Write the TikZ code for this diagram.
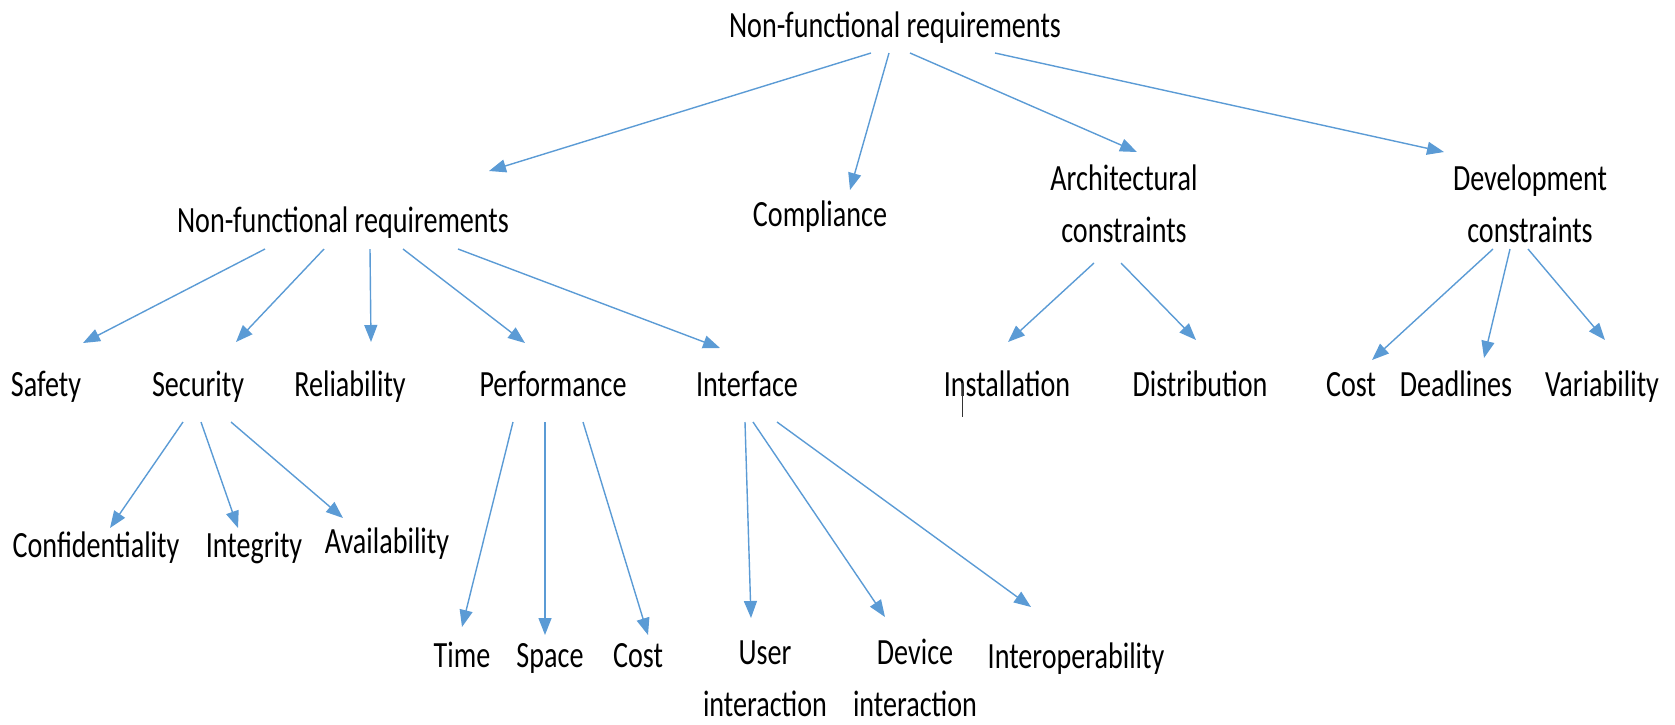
\documentclass[tikz,border=0pt]{standalone}
\usepackage{fontspec}
\setmainfont{Carlito}[FakeStretch=0.76]
\usetikzlibrary{arrows.meta,calc}
\definecolor{arrblue}{RGB}{91,155,213}
\tikzset{
  lbl/.style={anchor=base,inner sep=0pt,font=\fontsize{37}{52}\selectfont},
  lbltwo/.style={lbl,align=center},
  arr/.style={draw=arrblue,line width=1.4pt,-{Triangle[length=17pt,width=13pt]}},
  caret/.style={draw=black!80,line width=0.8pt}
}
\begin{document}
\begin{tikzpicture}[x=1pt,y=1pt]
\useasboundingbox (0,0) rectangle (1675,-724);
% top
\node[lbl] (root) at (895,-37) {Non-functional requirements};
% second row
\node[lbl] (nfrb) at (343,-232) {Non-functional requirements};
\node[lbl] (compl) at (820,-226) {Compliance};
\node[lbltwo] (arch) at (1124,-242) {Architectural\\constraints};
\node[lbltwo] (devc) at (1530,-242) {Development\\constraints};
% third row
\node[lbl] (safety) at (46,-396) {Safety};
\node[lbl] (secur) at (198,-396) {Security};
\node[lbl] (reliab) at (350,-396) {Reliability};
\node[lbl] (perf) at (553,-396) {Performance};
\node[lbl] (iface) at (747,-396) {Interface};
\node[lbl] (install) at (1007,-396) {Installation};
\node[lbl] (distrib) at (1200,-396) {Distribution};
\node[lbl] (costd) at (1351,-396) {Cost};
\node[lbl] (deadl) at (1456,-396) {Deadlines};
\node[lbl] (variab) at (1602,-396) {Variability};
% fourth row
\node[lbl] (confid) at (96,-557) {Confidentiality};
\node[lbl] (integ) at (254,-557) {Integrity};
\node[lbl] (avail) at (387,-553) {Availability};
\node[lbl] (time) at (462,-667) {Time};
\node[lbl] (space) at (550,-667) {Space};
\node[lbl] (costp) at (638,-667) {Cost};
\node[lbltwo] (user) at (765,-716) {User\\interaction};
\node[lbltwo] (device) at (915,-716) {Device\\interaction};
\node[lbl] (interop) at (1076,-668) {Interoperability};

\draw[arr] ($(root.base)+(-24,-16)$) -- ($(nfrb.base)+(146,61)$);
\draw[arr] ($(root.base)+(-6,-16)$) -- ($(compl.base)+(30,36)$);
\draw[arr] ($(root.base)+(15,-16)$) -- ($(arch.base)+(13,90)$);
\draw[arr] ($(root.base)+(100,-16)$) -- ($(devc.base)+(-86,90)$);

\draw[arr] ($(nfrb.base)+(-78,-17)$) -- ($(safety.base)+(37,53)$);
\draw[arr] ($(nfrb.base)+(-19,-17)$) -- ($(secur.base)+(38,54)$);
\draw[arr] ($(nfrb.base)+(27,-17)$) -- ($(reliab.base)+(21,54)$);
\draw[arr] ($(nfrb.base)+(60,-17)$) -- ($(perf.base)+(-28,53)$);
\draw[arr] ($(nfrb.base)+(115,-17)$) -- ($(iface.base)+(-27,48)$);

\draw[arr] ($(arch.base)+(-30,-21)$) -- ($(install.base)+(1,54)$);
\draw[arr] ($(arch.base)+(-3,-21)$) -- ($(distrib.base)+(-4,56)$);
\draw[arr] ($(devc.base)+(-37,-7)$) -- ($(costd.base)+(21,36)$);
\draw[arr] ($(devc.base)+(-20,-7)$) -- ($(deadl.base)+(28,38)$);
\draw[arr] ($(devc.base)+(-2,-7)$) -- ($(variab.base)+(3,56)$);

\draw[arr] ($(secur.base)+(-15,-26)$) -- ($(confid.base)+(14,29)$);
\draw[arr] ($(secur.base)+(3,-26)$) -- ($(integ.base)+(-16,29)$);
\draw[arr] ($(secur.base)+(33,-26)$) -- ($(avail.base)+(-44,35)$);

\draw[arr] ($(perf.base)+(-40,-26)$) -- ($(time.base)+(0,40)$);
\draw[arr] ($(perf.base)+(-8,-26)$) -- ($(space.base)+(-5,32)$);
\draw[arr] ($(perf.base)+(30,-26)$) -- ($(costp.base)+(10,32)$);

\draw[arr] ($(iface.base)+(-2,-26)$) -- ($(user.base)+(-14,98)$);
\draw[arr] ($(iface.base)+(6,-26)$) -- ($(device.base)+(-30,99)$);
\draw[arr] ($(iface.base)+(30,-26)$) -- ($(interop.base)+(-45,61)$);

% stray text cursor
\draw[caret] ($(install.base)+(-45,13)$) -- ($(install.base)+(-45,-21)$);
\end{tikzpicture}
\end{document}
